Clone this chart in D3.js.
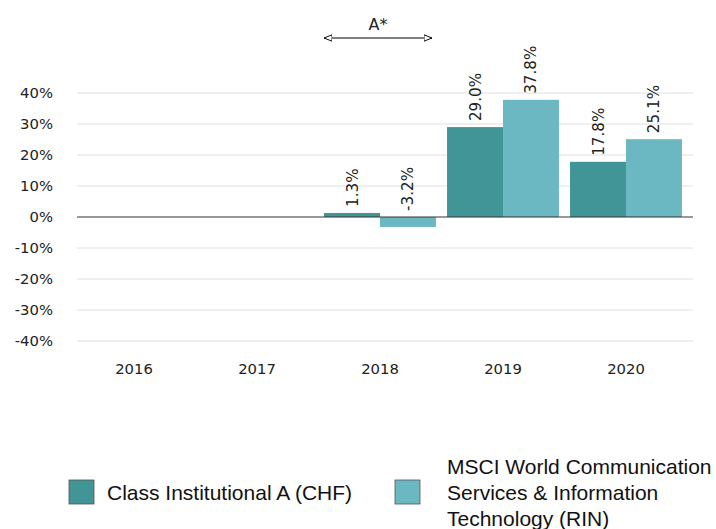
<!DOCTYPE html>
<html>
<head>
<meta charset="utf-8">
<script src="https://cdn.jsdelivr.net/npm/d3@7"></script>
<style>
  body { margin: 0; background: #fff; }
  svg text { font-family: "DejaVu Sans", sans-serif; }
</style>
</head>
<body>
<div id="canvas"></div>
<script>
const years = ["2016", "2017", "2018", "2019", "2020"];
const fundValues = [null, null, 1.3, 29.0, 17.8];
const indexValues = [null, null, -3.2, 37.8, 25.1];
const seriesNames = ["Class Institutional A (CHF)", "MSCI World Communication Services & Information Technology (RIN)"];
const legendLines = [["Class Institutional A (CHF)"], ["MSCI World Communication", "Services & Information", "Technology (RIN)"]];
const yTicks = [40, 30, 20, 10, 0, -10, -20, -30, -40];
const colors = ["#429596", "#6cb8c2"];

const width = 716, height = 529;

let svg = d3.select("#canvas")
  .append("svg")
  .attr("width", width)
  .attr("height", height);

// scales
const x = d3.scaleBand().domain(years).range([72.5, 687.5]).paddingInner(0.09).paddingOuter(0.045);
const y = d3.scaleLinear().domain([-40, 40]).range([341, 93]);
const xs = d3.scaleBand().domain([0, 1]).range([0, x.bandwidth()]);

// gridlines
svg.append("g")
  .selectAll("line")
  .data(yTicks.filter(d => d !== 0))
  .join("line")
  .attr("x1", 77).attr("x2", 693)
  .attr("y1", d => y(d)).attr("y2", d => y(d))
  .attr("stroke", "#e0e0e0")
  .attr("stroke-width", 1);

// y axis labels
const yAxis = svg.append("g")
  .attr("transform", "translate(60,0)")
  .call(d3.axisLeft(y).tickValues(yTicks).tickSize(0).tickPadding(7).tickFormat(d => d + "%"));
yAxis.select(".domain").remove();
yAxis.selectAll("text").attr("font-size", 14.8).attr("fill", "#222").attr("font-family", "DejaVu Sans");

// x axis labels
const xAxis = svg.append("g")
  .attr("transform", "translate(0,362)")
  .call(d3.axisBottom(x).tickSize(0).tickPadding(1));
xAxis.select(".domain").remove();
xAxis.selectAll("text").attr("font-size", 14.8).attr("fill", "#222").attr("font-family", "DejaVu Sans");

// bars
const series = [fundValues, indexValues];
series.forEach((vals, si) => {
  const data = years.map((yr, i) => ({ yr, v: vals[i] })).filter(d => d.v !== null);
  svg.append("g")
    .selectAll("rect")
    .data(data)
    .join("rect")
    .attr("x", d => x(d.yr) + xs(si))
    .attr("width", xs.bandwidth())
    .attr("y", d => y(Math.max(0, d.v)))
    .attr("height", d => Math.abs(y(d.v) - y(0)))
    .attr("fill", colors[si]);

  svg.append("g")
    .selectAll("text")
    .data(data)
    .join("text")
    .attr("transform", d => `translate(${x(d.yr) + xs(si) + xs.bandwidth() / 2 + 5.5},${y(Math.max(0, d.v)) - 6}) rotate(-90)`)
    .attr("font-size", 15.2)
    .attr("fill", "#222")
    .text(d => d.v.toFixed(1) + "%");
});

// zero line
svg.append("line")
  .attr("x1", 77).attr("x2", 693)
  .attr("y1", y(0)).attr("y2", y(0))
  .attr("stroke", "#333")
  .attr("stroke-width", 1);

// annotation arrow A*
const defs = svg.append("defs");
defs.append("marker")
  .attr("id", "arrowOpen")
  .attr("viewBox", "0 0 10 10")
  .attr("refX", 10).attr("refY", 5)
  .attr("markerWidth", 8).attr("markerHeight", 8)
  .attr("markerUnits", "userSpaceOnUse")
  .attr("orient", "auto-start-reverse")
  .append("path")
  .attr("d", "M0,1 L10,5 L0,9 Z")
  .attr("fill", "#fff")
  .attr("stroke", "#000")
  .attr("stroke-width", 1.2);

const ax1 = x("2018"), ax2 = x("2018") + x.bandwidth() - 4;
svg.append("line")
  .attr("x1", ax1).attr("x2", ax2)
  .attr("y1", 38).attr("y2", 38)
  .attr("stroke", "#000")
  .attr("stroke-width", 1)
  .attr("marker-start", "url(#arrowOpen)")
  .attr("marker-end", "url(#arrowOpen)");
svg.append("text")
  .attr("x", (ax1 + ax2) / 2)
  .attr("y", 30)
  .attr("text-anchor", "middle")
  .attr("font-size", 16)
  .attr("fill", "#222")
  .text("A*");

// legend
const legendPos = [{ sx: 69, tx: 107 }, { sx: 395, tx: 447 }];
legendPos.forEach((p, i) => {
  svg.append("rect")
    .attr("x", p.sx).attr("y", 480)
    .attr("width", 25).attr("height", 24)
    .attr("fill", colors[i])
    .attr("stroke", "#555")
    .attr("stroke-width", 0.8);
  const lines = legendLines[i];
  const startY = 500 - (lines.length - 1) / 2 * 26;
  svg.append("text")
    .style("font-family", "'Liberation Sans', Arial, sans-serif")
    .attr("font-size", 21)
    .attr("fill", "#111")
    .selectAll("tspan")
    .data(lines)
    .join("tspan")
    .attr("x", p.tx)
    .attr("y", (d, j) => startY + j * 26)
    .text(d => d);
});
</script>
</body>
</html>
